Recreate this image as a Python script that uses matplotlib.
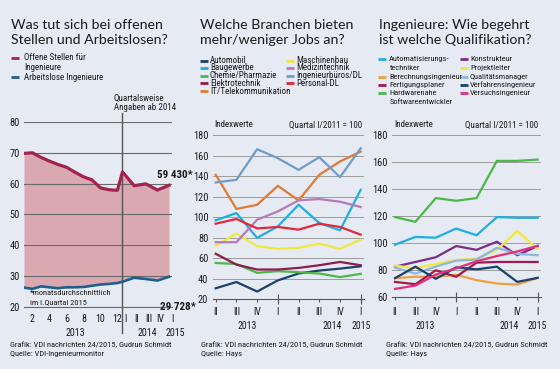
import matplotlib
matplotlib.use('Agg')
import matplotlib.pyplot as plt
from matplotlib import font_manager as fm
from matplotlib.lines import Line2D

W, H = 560, 369
BG = '#e5eaf3'

avail = {f.name for f in fm.fontManager.ttflist}
def pick(cands):
    for c in cands:
        if c in avail:
            return c
    return 'DejaVu Sans'
TITLE_FONT = pick(['Lato', 'Open Sans', 'DejaVu Sans'])
NARROW = pick(['Liberation Sans Narrow', 'Roboto Condensed', 'Lato', 'DejaVu Sans'])

# ---------------- data ----------------
# Chart 1 (thousands)
month_labels = ['1', '2', '3', '4', '5', '6', '7', '8', '9', '10', '11', '12']
quarter_labels_1 = ['I', 'II', 'III', 'IV', 'I']
offene_monthly = [69.8, 70.0, 68.5, 67.3, 66.2, 65.3, 63.7, 62.2, 61.2, 58.6, 58.0, 57.8]
offene_quarterly = [63.8, 59.3, 59.9, 57.9, 59.43]
arbeitslose_monthly = [26.2, 25.8, 26.6, 26.3, 26.0, 26.3, 26.3, 26.4, 26.8, 27.2, 27.4, 27.7]
arbeitslose_quarterly = [28.1, 29.4, 29.0, 28.5, 29.728]

# Chart 2 (index, Q I/2011 = 100)
quarters = ['II', 'III', 'IV', 'I', 'II', 'III', 'IV', 'I']
branchen = ['Automobil', 'Baugewerbe', 'Chemie/Pharmazie', 'Elektrotechnik',
            'IT/Telekommunikation', 'Maschinenbau', 'Medizintechnik',
            'Ingenieurbüros/DL', 'Personal-DL']
automobil = [30.5, 36.6, 27.3, 38.2, 44.9, 47.8, 49.7, 52.0]
baugewerbe = [96.9, 104.0, 79.7, 91.0, 112.1, 94.3, 87.1, 126.8]
chemie = [55.2, 54.2, 45.6, 47.2, 46.2, 44.9, 41.4, 44.6]
elektro = [64.2, 53.6, 48.8, 48.8, 50.4, 53.0, 56.2, 53.0]
it_tk = [141.4, 108.0, 112.1, 130.6, 116.4, 141.4, 154.4, 164.1]
maschinenbau = [72.2, 83.9, 71.6, 69.0, 70.0, 74.2, 69.0, 78.1]
medizin = [75.5, 75.5, 97.5, 105.6, 116.4, 117.7, 115.1, 109.9]
ingbueros = [133.9, 136.5, 166.4, 157.6, 146.2, 158.6, 139.1, 167.3]
personal = [93.6, 98.2, 89.0, 90.4, 87.8, 93.6, 90.4, 82.9]

# Chart 3 (index, Q I/2011 = 100)
qualifikationen = ['Automatisierungs-\ntechniker', 'Berechnungsingenieur', 'Fertigungsplaner',
                   'Hardwarenahe\nSoftwareentwickler', 'Konstrukteur', 'Projektleiter',
                   'Qualitätsmanager', 'Verfahrensingenieur', 'Versuchsingenieur']
automatisierung = [98.8, 104.6, 104.0, 110.8, 105.8, 119.3, 118.8, 118.8]
berechnung = [74.0, 75.0, 75.0, 76.5, 72.5, 70.0, 69.2, 74.2]
fertigung = [71.2, 69.5, 79.8, 75.0, 85.5, 86.0, 86.0, 86.0]
hardware = [119.3, 115.8, 133.4, 131.4, 133.4, 161.0, 161.0, 162.0]
konstrukteur = [82.5, 86.0, 89.5, 97.8, 95.0, 101.0, 91.0, 97.8]
projektleiter = [83.3, 81.3, 84.5, 87.5, 88.3, 95.0, 109.0, 95.5]
qualitaet = [81.8, 77.4, 82.6, 87.0, 87.8, 96.5, 92.0, 91.0]
verfahren = [74.0, 82.5, 73.5, 82.0, 80.5, 82.5, 71.2, 74.2]
versuch = [66.0, 68.5, 76.6, 81.3, 86.5, 90.4, 93.8, 98.0]

# ---------------- styles ----------------
C_OFF = '#a3234f'
C_OFF_FILL = '#d9a8b0'
C_ARB = '#1f5f8b'
cols2 = ['#1b3f6e', '#1eaee3', '#4db848', '#8c1d4b', '#e27a34',
         '#f2e640', '#b77ab8', '#6f9ccb', '#e2283b']
cols3 = ['#1eaee3', '#f0a040', '#a3184f', '#4db848', '#7d2b8b',
         '#f2e640', '#8cb8dc', '#1b3f6e', '#e0307a']
TXT = '#1a1a1a'

fig = plt.figure(figsize=(W / 100, H / 100), dpi=100, facecolor=BG)


def add_ax(x0, x1, ytop, ybot):
    ax = fig.add_axes([x0 / W, 1 - ybot / H, (x1 - x0) / W, (ybot - ytop) / H])
    ax.set_facecolor('none')
    for s in ['left', 'right', 'top']:
        ax.spines[s].set_visible(False)
    return ax


def T(x, y, s, size=6.5, font=None, **kw):
    kw.setdefault('va', 'center')
    kw.setdefault('ha', 'left')
    kw.setdefault('color', TXT)
    fig.text(x / W, 1 - y / H, s, fontsize=size, family=font or NARROW, **kw)


def leg_line(x, y, color):
    fig.add_artist(Line2D([x / W, (x + 8) / W], [1 - y / H, 1 - y / H],
                          color=color, lw=2.0, solid_capstyle='butt'))


def axfrac(Y, ytop, ybot):
    return (ybot - Y) / (ybot - ytop)

# ================= Chart 1 =================
T(11, 25, 'Was tut sich bei offenen', size=10.2, font=TITLE_FONT)
T(11, 40, 'Stellen und Arbeitslosen?', size=10.2, font=TITLE_FONT)
leg_line(11, 58, C_OFF)
T(24, 58, 'Offene Stellen für')
T(24, 67, 'Ingenieure')
leg_line(11, 77, C_ARB)
T(24, 77, 'Arbeitslose Ingenieure')

y1t, y1b = 122, 306.7
ax1 = add_ax(24, 172, y1t, y1b)
xm = list(range(1, 13))
q0, qstep = 12.6, 1.37
xq = [q0 + qstep * i for i in range(5)]
x_all = xm + xq
off_all = offene_monthly + offene_quarterly
arb_all = arbeitslose_monthly + arbeitslose_quarterly
ax1.set_xlim(1, 18.3)
ax1.set_ylim(20, 80)
ax1.fill_between(x_all, arb_all, off_all, color=C_OFF_FILL, lw=0, zorder=1)
ax1.set_yticks([20, 30, 40, 50, 60, 70, 80])
ax1.yaxis.grid(True, color='#6a6a6a', lw=0.8, zorder=2)
ax1.set_axisbelow(False)
ax1.plot(x_all, off_all, color=C_OFF, lw=2.3, zorder=4, solid_joinstyle='round')
ax1.plot(x_all, arb_all, color=C_ARB, lw=1.9, zorder=4, solid_joinstyle='round')
ax1.axvline(xq[0], ymin=-0.145, ymax=1.05, color='#555555', lw=1.0, clip_on=False, zorder=3)
ax1.spines['bottom'].set_color('#6a6a6a')
ax1.tick_params(axis='y', length=0, pad=3, labelsize=7.5, labelcolor=TXT)
for lab in ax1.get_yticklabels():
    lab.set_family(NARROW)
tick_x1 = [m for m in xm if m % 2 == 0] + [x + 0.35 for x in xq]
tick_l1 = [month_labels[m - 1] for m in xm if m % 2 == 0] + quarter_labels_1
ax1.set_xticks(tick_x1)
ax1.set_xticklabels(tick_l1, family=NARROW, fontsize=7.2, color=TXT)
ax1.tick_params(axis='x', length=0, pad=5.2)
tr1 = ax1.get_xaxis_transform()
for xp, s in [(7, '2013'), (15.5, '2014'), (18.8, '2015')]:
    ax1.text(xp, axfrac(332.5, y1t, y1b), s, transform=tr1, ha='center', va='center',
             fontsize=7.2, family=NARROW, color=TXT)
T(114, 98, 'Quartalsweise')
T(114, 107, 'Angaben ab 2014')
T(157, 175, '59 430*', size=8, weight='bold')
T(160, 306.5, '29 728*', size=8, weight='bold')
T(30, 293, '*monatsdurchschnittlich', size=6)
T(30, 302, 'im I.Quartal 2015', size=6)
T(10, 345, 'Grafik: VDI nachrichten 24/2015, Gudrun Schmidt', size=6)
T(10, 354, 'Quelle: VDI-Ingenieurmonitor', size=6)


def index_chart(x0, x1, ytop, ybot, ylo, series, colors, year_pos, pad):
    ax = add_ax(x0, x1, ytop, ybot)
    xs = list(range(len(quarters)))
    ax.set_xlim(-0.15, len(quarters) - 1 + 0.15)
    ax.set_ylim(ylo, 180)
    ax.set_yticks(list(range(ylo, 181, 20)))
    ax.yaxis.grid(True, color='#9c9c9c', lw=0.7)
    ax.set_axisbelow(True)
    for vals, c in zip(series, colors):
        ax.plot(xs, vals, color=c, lw=1.6, solid_joinstyle='round', zorder=3)
    ax.spines['bottom'].set_color('#555555')
    ax.tick_params(axis='y', length=0, pad=3, labelsize=7.5, labelcolor=TXT)
    for lab in ax.get_yticklabels():
        lab.set_family(NARROW)
    ax.set_xticks(xs)
    ax.set_xticklabels(quarters, family=NARROW, fontsize=7.0, color=TXT)
    ax.xaxis.remove_overlapping_locs = False
    ax.set_xticks([i for i, q in enumerate(quarters) if q == 'I'], minor=True)
    ax.tick_params(axis='x', which='major', length=2.5, width=0.8, color='#555555',
                   direction='out', pad=pad)
    ax.tick_params(axis='x', which='minor', length=7, width=0.8, color='#555555',
                   direction='inout')
    tr = ax.get_xaxis_transform()
    for xp, s in year_pos:
        ax.text(xp, axfrac(326, ytop, ybot), s, transform=tr, ha='center', va='center',
                fontsize=7.0, family=NARROW, color=TXT)
    return ax

# ================= Chart 2 =================
T(200, 25, 'Welche Branchen bieten', size=10.2, font=TITLE_FONT)
T(200, 40, 'mehr/weniger Jobs an?', size=10.2, font=TITLE_FONT)
rows_l = [60.5, 68, 75.5, 83, 91]
rows_r = [60.5, 68, 75.5, 83]
for i in range(5):
    leg_line(200, rows_l[i], cols2[i])
    T(210, rows_l[i], branchen[i])
for i in range(4):
    leg_line(286, rows_r[i], cols2[5 + i])
    T(296, rows_r[i], branchen[5 + i])
T(234, 125, 'Indexwerte', ha='center')
T(362, 125, 'Quartal I/2011 = 100', ha='right')
index_chart(212.6, 363.8, 135.3, 299, 20,
            [automobil, baugewerbe, chemie, elektro, it_tk,
             maschinenbau, medizin, ingbueros, personal],
            cols2, [(1.5, '2013'), (5.6, '2014'), (7.0, '2015')], pad=3.5)
T(201, 345, 'Grafik: VDI nachrichten 24/2015, Gudrun Schmidt', size=6)
T(201, 354, 'Quelle: Hays', size=6)

# ================= Chart 3 =================
T(379, 25, 'Ingenieure: Wie begehrt', size=10.2, font=TITLE_FONT)
T(379, 40, 'ist welche Qualifikation?', size=10.2, font=TITLE_FONT)
rows3_l = [59.3, 76.7, 85, 93.3]
rows3_r = [59.3, 68.3, 76.7, 85, 93.3]
for i in range(4):
    leg_line(378, rows3_l[i], cols3[i])
    parts = qualifikationen[i].split('\n')
    for k, p in enumerate(parts):
        T(389 if k == 0 else 390, rows3_l[i] + 8.4 * k, p, size=6.0)
for i in range(5):
    leg_line(460, rows3_r[i], cols3[4 + i])
    T(470, rows3_r[i], qualifikationen[4 + i], size=6.0)
T(414, 125, 'Indexwerte', ha='center')
T(538, 125, 'Quartal I/2011 = 100', ha='right')
index_chart(392, 540.7, 135.3, 297, 60,
            [automatisierung, berechnung, fertigung, hardware, konstrukteur,
             projektleiter, qualitaet, verfahren, versuch],
            cols3, [(1.5, '2013'), (5.6, '2014'), (7.0, '2015')], pad=5)
T(386, 345, 'Grafik: VDI nachrichten 24/2015, Gudrun Schmidt', size=6)
T(386, 354, 'Quelle: Hays', size=6)

fig.savefig('out.png', dpi=100, facecolor=BG)
